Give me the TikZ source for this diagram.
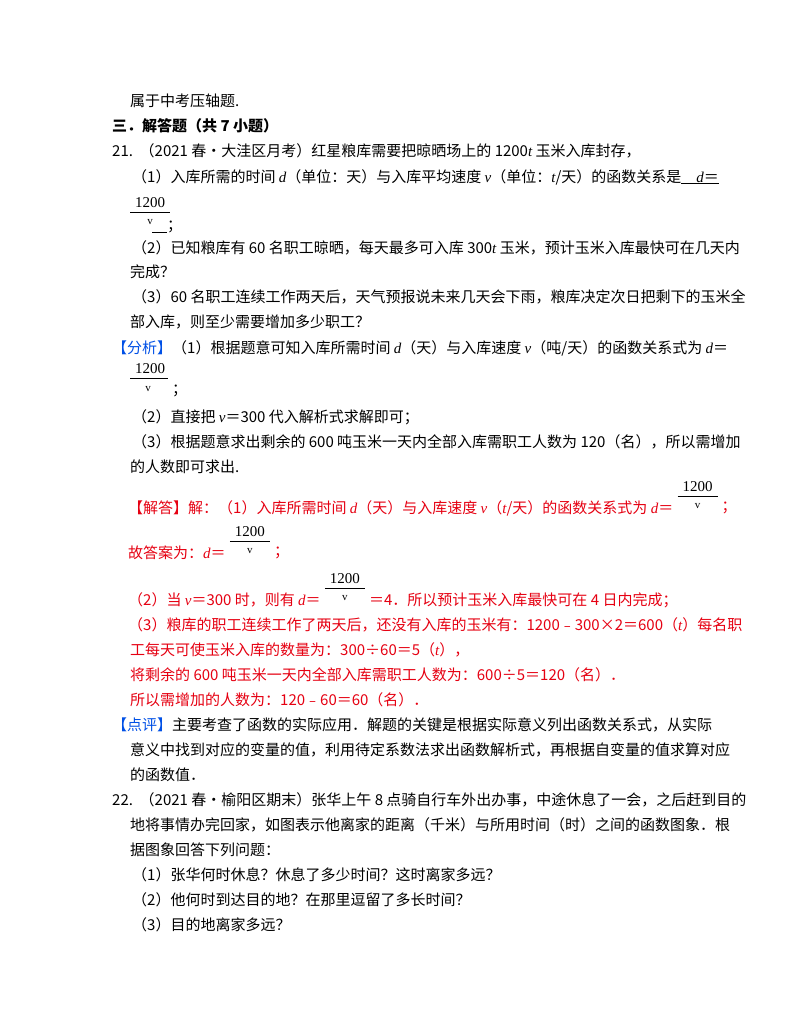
\documentclass[tikz,border=0pt]{standalone}
\usepackage{fontspec}
\setmainfont{Noto Sans CJK SC}
\newfontfamily\ser{Liberation Serif}
\newcommand{\iv}[1]{{\ser\itshape #1}}
\definecolor{ansred}{RGB}{230,0,18}
\definecolor{tagblue}{RGB}{0,80,230}
\begin{document}
\begin{tikzpicture}[x=1pt,y=-1pt,
  ln/.style={anchor=west,inner sep=0pt,font=\fontsize{15}{15}\selectfont},
  rd/.style={ln,text=ansred},
  fr/.style={inner sep=0pt,font=\ser\fontsize{15}{15}\selectfont},
  vv/.style={inner sep=0pt,font=\ser\fontsize{11}{11}\selectfont}]
\useasboundingbox[fill=white] (0,0) rectangle (800,1035);
\node[ln] (l1) at (130,101) {属于中考压轴题.};
\node[ln,font=\bfseries\fontsize{15}{15}\selectfont] (l2) at (112,126) {三．解答题（共 7 小题）};
\node[ln] (l3) at (112,151) {21.\ \ （2021 春•大洼区月考）红星粮库需要把晾晒场上的 1200\iv{t} 玉米入库封存，};
\node[ln] (l4) at (132,177) {（1）入库所需的时间 \iv{d}（单位：天）与入库平均速度 \iv{v}（单位：\iv{t}/天）的函数关系是\underline{\quad\iv{d}＝}};
\node[fr] (f1) at (150,203) {1200};
\draw (130,212) -- (170,212);
\node[vv] (v1) at (150,222) {v};
\node[ln] (l5) at (152,227) {\underline{\quad}；};
\node[ln] (l6) at (132,248) {（2）已知粮库有 60 名职工晾晒，每天最多可入库 300\iv{t} 玉米，预计玉米入库最快可在几天内};
\node[ln] (l7) at (130,272) {完成？};
\node[ln] (l8) at (132,297) {（3）60 名职工连续工作两天后，天气预报说未来几天会下雨，粮库决定次日把剩下的玉米全};
\node[ln] (l9) at (130,322) {部入库，则至少需要增加多少职工？};
\node[ln] (l10) at (112,348) {\textcolor{tagblue}{【分析】}（1）根据题意可知入库所需时间 \iv{d}（天）与入库速度 \iv{v}（吨/天）的函数关系式为 \iv{d}＝};
\node[fr] (f2) at (150,369) {1200};
\draw (130,378) -- (168,378);
\node[vv] (v2) at (148,389) {v};
\node[ln] (l11) at (172,391) {；};
\node[ln] (l12) at (132,417) {（2）直接把 \iv{v}＝300 代入解析式求解即可；};
\node[ln] (l13) at (132,442) {（3）根据题意求出剩余的 600 吨玉米一天内全部入库需职工人数为 120（名），所以需增加};
\node[ln] (l14) at (130,467) {的人数即可求出.};
\node[rd] (l15) at (128,508) {【解答】解：（1）入库所需时间 \iv{d}（天）与入库速度 \iv{v}（\iv{t}/天）的函数关系式为 \iv{d}＝};
\node[fr] (f3) at ([xshift=24pt,yshift=21pt]l15.east) {1200};
\draw ([xshift=-20pt,yshift=-9pt]f3.center) -- ([xshift=20pt,yshift=-9pt]f3.center);
\node[vv] (v3) at ([yshift=-19pt]f3.center) {v};
\node[rd] (s3) at ([xshift=48pt]l15.east) {；};
\node[rd] (l16) at (128,553) {故答案为：\iv{d}＝};
\node[fr] (f4) at ([xshift=24pt,yshift=21pt]l16.east) {1200};
\draw ([xshift=-20pt,yshift=-9pt]f4.center) -- ([xshift=20pt,yshift=-9pt]f4.center);
\node[vv] (v4) at ([yshift=-19pt]f4.center) {v};
\node[rd] (s4) at ([xshift=48pt]l16.east) {；};
\node[rd] (l17) at (128,600) {（2）当 \iv{v}＝300 时，则有 \iv{d}＝};
\node[fr] (f5) at ([xshift=24pt,yshift=21pt]l17.east) {1200};
\draw ([xshift=-20pt,yshift=-9pt]f5.center) -- ([xshift=20pt,yshift=-9pt]f5.center);
\node[vv] (v5) at ([yshift=-19pt]f5.center) {v};
\node[rd] (l18) at ([xshift=48pt]l17.east) {＝4．所以预计玉米入库最快可在 4 日内完成；};
\node[rd] (l19) at (128,625) {（3）粮库的职工连续工作了两天后，还没有入库的玉米有：1200﹣300×2＝600（\iv{t}）每名职};
\node[rd] (l20) at (130,650) {工每天可使玉米入库的数量为：300÷60＝5（\iv{t}），};
\node[rd] (l21) at (130,675) {将剩余的 600 吨玉米一天内全部入库需职工人数为：600÷5＝120（名）．};
\node[rd] (l22) at (130,700) {所以需增加的人数为：120﹣60＝60（名）．};
\node[ln] (l23) at (112,725) {\textcolor{tagblue}{【点评】}主要考查了函数的实际应用．解题的关键是根据实际意义列出函数关系式，从实际};
\node[ln] (l24) at (130,750) {意义中找到对应的变量的值，利用待定系数法求出函数解析式，再根据自变量的值求算对应};
\node[ln] (l25) at (130,775) {的函数值．};
\node[ln] (l26) at (112,800) {22.\ \ （2021 春•榆阳区期末）张华上午 8 点骑自行车外出办事，中途休息了一会，之后赶到目的};
\node[ln] (l27) at (130,825) {地将事情办完回家，如图表示他离家的距离（千米）与所用时间（时）之间的函数图象．根};
\node[ln] (l28) at (130,850) {据图象回答下列问题：};
\node[ln] (l29) at (132,875) {（1）张华何时休息？休息了多少时间？这时离家多远？};
\node[ln] (l30) at (132,900) {（2）他何时到达目的地？在那里逗留了多长时间？};
\node[ln] (l31) at (132,925) {（3）目的地离家多远？};
\end{tikzpicture}
\end{document}
